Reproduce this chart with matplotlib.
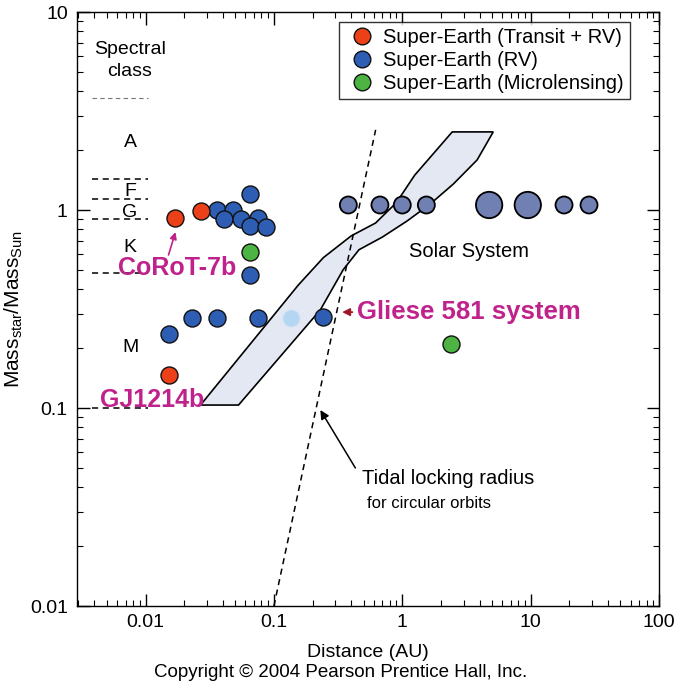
import matplotlib
matplotlib.use("Agg")
import matplotlib.pyplot as plt
from matplotlib.lines import Line2D

plt.rcParams['font.family'] = ['Liberation Sans', 'DejaVu Sans']
plt.rcParams['mathtext.default'] = 'regular'

# planets (distance in AU, stellar mass in solar masses)
transit_dist = [0.0171, 0.0268, 0.0151]
transit_mass = [0.91, 0.99, 0.147]

rv_dist = [0.0656, 0.0363, 0.0484, 0.0412, 0.0558, 0.0757, 0.0656, 0.0874,
           0.0656, 0.0232, 0.0363, 0.0757, 0.0151, 0.243]
rv_mass = [1.205, 1.0, 1.0, 0.90, 0.90, 0.91, 0.83, 0.82,
           0.47, 0.285, 0.285, 0.285, 0.236, 0.288]

faded_dist = [0.137]
faded_mass = [0.285]

micro_dist = [0.0656, 2.4]
micro_mass = [0.614, 0.21]

solar_names = ["Mercury", "Venus", "Earth", "Mars", "Jupiter", "Saturn", "Uranus", "Neptune"]
solar_dist = [0.38, 0.67, 1.0, 1.54, 4.75, 9.5, 18.2, 28.5]
solar_mass = [1.06, 1.06, 1.06, 1.06, 1.06, 1.06, 1.06, 1.06]

# habitable zone outline
hz_dist = [0.0268, 0.155, 0.243, 0.40, 0.62, 0.90, 1.25, 2.45, 5.11,
           3.83, 2.49, 1.65, 1.09, 0.70, 0.46, 0.347, 0.230, 0.053]
hz_mass = [0.1035, 0.418, 0.575, 0.74, 0.86, 1.09, 1.50, 2.48, 2.48,
           1.79, 1.35, 1.072, 0.88, 0.73, 0.63, 0.50, 0.313, 0.1035]

# tidal locking radius
tidal_dist = [0.1, 0.62]
tidal_mass = [0.01, 2.54]

# spectral class boundaries
class_bounds = [3.68, 1.43, 1.14, 0.90, 0.48, 0.1]
class_names = ["A", "F", "G", "K", "M"]
class_label_mass = [2.18, 1.233, 0.977, 0.650, 0.201]

xticks = [0.01, 0.1, 1, 10, 100]
xticklabels = ["0.01", "0.1", "1", "10", "100"]
yticks = [0.01, 0.1, 1, 10]
yticklabels = ["0.01", "0.1", "1", "10"]

magenta = "#c0228c"

fig = plt.figure(figsize=(6.75, 6.86), dpi=100)
ax = fig.add_axes([0.1148, 0.1166, 0.8615, 0.8659])
ax.set_xscale("log")
ax.set_yscale("log")
ax.set_xlim(0.00295, 100)
ax.set_ylim(0.01, 10)

ax.fill(hz_dist, hz_mass, facecolor="#e3e8f3", edgecolor="black", linewidth=1.2, zorder=1)

for m in class_bounds:
    if m == class_bounds[0]:
        ax.plot([0.0038, 0.0105], [m, m], color="#777777", ls=(0, (4, 3)), lw=0.8, zorder=2)
    else:
        ax.plot([0.0038, 0.0105], [m, m], color="black", ls=(0, (4, 3)), lw=1.1, zorder=2)
for name, m in zip(class_names, class_label_mass):
    ax.text(0.00757, m, name, fontsize=14, ha="center", va="center", zorder=3)
ax.text(0.00757, 6.43, "Spectral", fontsize=14, ha="center", va="center", zorder=3)
ax.text(0.00757, 4.98, "class", fontsize=14, ha="center", va="center", zorder=3)

sizes = [150, 150, 150, 150, 360, 360, 150, 150]
ax.scatter(solar_dist, solar_mass, s=sizes, c="#7180b3", edgecolors="black",
           linewidths=1.3, zorder=4)
ax.scatter(rv_dist, rv_mass, s=150, c="#2e5db4", edgecolors="#111111", linewidths=1.0, zorder=5)
ax.scatter(faded_dist, faded_mass, s=150, c="#b5d6f2", edgecolors="#cfe2f5", linewidths=0.8, zorder=5)
ax.scatter(transit_dist, transit_mass, s=150, c="#ec4019", edgecolors="#111111", linewidths=1.0, zorder=6)
ax.scatter(micro_dist, micro_mass, s=150, c="#4db443", edgecolors="#111111", linewidths=1.0, zorder=6)

ax.plot(tidal_dist, tidal_mass, color="black", ls=(0, (4, 3)), lw=1.1, zorder=7)

ax.text(3.32, 0.614, "Solar System", fontsize=14.5, ha="center", va="center")
ax.annotate("", xy=(0.230, 0.0977), xytext=(0.431, 0.0498),
            arrowprops=dict(arrowstyle="-|>", color="black", lw=1.1, mutation_scale=13,
                            shrinkA=0, shrinkB=0))
ax.text(0.489, 0.0443, "Tidal locking radius", fontsize=14.5, ha="left", va="center")
ax.text(0.534, 0.0331, "for circular orbits", fontsize=12, ha="left", va="center")

ax.annotate("Gliese 581 system", xy=(0.34, 0.305), xytext=(0.44, 0.305),
            fontsize=18.5, fontweight="bold", color=magenta, ha="left", va="center",
            arrowprops=dict(arrowstyle="-|>", color="#a01828", lw=1.3, mutation_scale=11,
                            shrinkA=1, shrinkB=0))
ax.text(0.00605, 0.509, "CoRoT-7b", fontsize=18, fontweight="bold", color=magenta,
        ha="left", va="center", zorder=8)
ax.annotate("", xy=(0.0171, 0.774), xytext=(0.0151, 0.593),
            arrowprops=dict(arrowstyle="-|>", color=magenta, lw=1.2, mutation_scale=10,
                            shrinkA=0, shrinkB=0))
ax.text(0.0044, 0.1097, "GJ1214b", fontsize=18, fontweight="bold", color=magenta,
        ha="left", va="center", zorder=8)

handles = [
    Line2D([], [], ls="none", marker="o", markersize=12, markerfacecolor="#ec4019",
           markeredgecolor="#111111", label="Super-Earth (Transit + RV)"),
    Line2D([], [], ls="none", marker="o", markersize=12, markerfacecolor="#2e5db4",
           markeredgecolor="#111111", label="Super-Earth (RV)"),
    Line2D([], [], ls="none", marker="o", markersize=12, markerfacecolor="#4db443",
           markeredgecolor="#111111", label="Super-Earth (Microlensing)"),
]
leg = ax.legend(handles=handles, loc="upper right", bbox_to_anchor=(0.95, 0.983),
                borderaxespad=0, fontsize=14.5, frameon=True, fancybox=False,
                handlelength=1.7, handletextpad=0.2, labelspacing=0.2,
                borderpad=0.3, edgecolor="black")
leg.get_frame().set_linewidth(1.0)

ax.set_xticks(xticks, labels=xticklabels)
ax.set_yticks(yticks, labels=yticklabels)
ax.tick_params(which="both", direction="in", top=True, right=True, labelsize=14)
ax.tick_params(which="major", length=9, width=1)
ax.tick_params(which="minor", length=4.5, width=0.8)
ax.tick_params(axis="x", pad=6)
ax.tick_params(axis="y", pad=7)
for s in ax.spines.values():
    s.set_linewidth(1.0)

ax.set_xlabel("Distance (AU)", fontsize=14, labelpad=9)
ax.set_ylabel("Mass$_{star}$/Mass$_{Sun}$", fontsize=15)
ax.yaxis.set_label_coords(-0.09, 0.5)

fig.text(0.505, 0.02, "Copyright \u00a9 2004 Pearson Prentice Hall, Inc.", fontsize=13.5,
         ha="center", va="center")

fig.savefig("out.png", dpi=100)
